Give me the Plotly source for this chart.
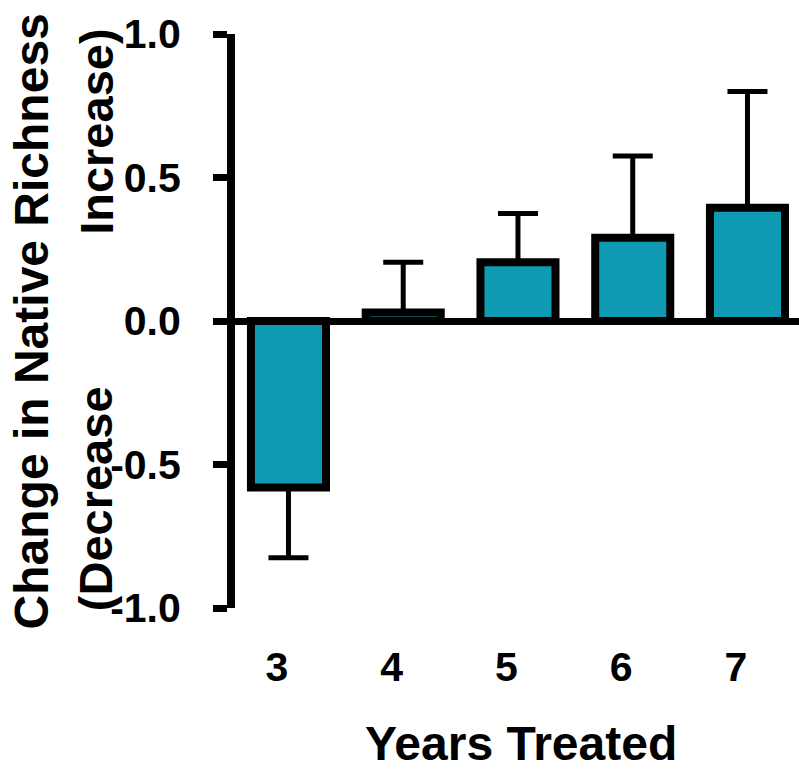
import plotly.graph_objects as go

# Mean change in native species richness by number of years treated
years = [3, 4, 5, 6, 7]
mean_change = [-0.58, 0.03, 0.205, 0.29, 0.395]
std_err = [0.245, 0.175, 0.17, 0.285, 0.405]

y_tick_vals = [-1.0, -0.5, 0.0, 0.5, 1.0]
y_tick_text = ["-1.0", "-0.5", "0.0", "0.5", "1.0"]

# error bars point away from zero only
err_up = [e if m >= 0 else 0 for m, e in zip(mean_change, std_err)]
err_down = [e if m < 0 else 0 for m, e in zip(mean_change, std_err)]

FONT = "Liberation Sans, Arial, sans-serif"
BAR_FILL = "#109AB1"
X_RANGE = [2.534, 7.449]
LABEL_SHIFT = 0.1  # category labels sit slightly left of the bar centres

fig = go.Figure()
fig.add_trace(go.Bar(
    x=years,
    y=mean_change,
    width=0.654,
    marker=dict(color=BAR_FILL, line=dict(color="black", width=8)),
    error_y=dict(
        type="data",
        symmetric=False,
        array=err_up,
        arrayminus=err_down,
        color="black",
        thickness=5,
        width=20,
    ),
    showlegend=False,
))
# invisible carrier trace so the label axis is rendered
fig.add_trace(go.Scatter(
    x=years,
    y=[0] * len(years),
    xaxis="x2",
    mode="markers",
    marker=dict(opacity=0),
    hoverinfo="skip",
    showlegend=False,
))

fig.update_layout(
    width=799,
    height=769,
    margin=dict(l=235, r=0, t=34, b=161),
    paper_bgcolor="white",
    plot_bgcolor="white",
    xaxis=dict(
        range=X_RANGE,
        showticklabels=False,
        showline=False,
        showgrid=False,
        zeroline=False,
        ticks="",
    ),
    xaxis2=dict(
        overlaying="x",
        side="bottom",
        anchor="y",
        range=[X_RANGE[0] + LABEL_SHIFT, X_RANGE[1] + LABEL_SHIFT],
        tickvals=years,
        ticktext=[str(y) for y in years],
        showline=False,
        showgrid=False,
        zeroline=False,
        ticks="",
        ticklabelstandoff=31,
        tickfont=dict(family=FONT, size=41, color="black", weight="bold"),
    ),
    yaxis=dict(
        range=[-1.0, 1.0],
        tickvals=y_tick_vals,
        ticktext=y_tick_text,
        showline=True,
        linecolor="black",
        linewidth=8,
        showgrid=False,
        zeroline=True,
        zerolinecolor="black",
        zerolinewidth=7,
        ticks="outside",
        ticklen=14,
        tickwidth=7,
        tickcolor="black",
        ticklabelstandoff=24,
        tickfont=dict(family=FONT, size=41, color="black", weight="bold"),
    ),
)

title_font = dict(family=FONT, size=48, color="black", weight="bold")
line2_font = dict(family=FONT, size=47, color="black", weight="bold")

fig.add_annotation(
    text="Change in Native Richness", textangle=-90,
    xref="paper", yref="paper", x=-0.361, y=0.5,
    xanchor="center", yanchor="middle", showarrow=False,
    font=title_font,
)
fig.add_annotation(
    text="Increase)", textangle=-90,
    xref="paper", yref="paper", x=-0.246, y=0.83,
    xanchor="center", yanchor="middle", showarrow=False,
    font=line2_font,
)
fig.add_annotation(
    text="(Decrease", textangle=-90,
    xref="paper", yref="paper", x=-0.246, y=0.19,
    xanchor="center", yanchor="middle", showarrow=False,
    font=line2_font,
)
fig.add_annotation(
    text="Years Treated",
    xref="paper", yref="paper", x=0.507, y=-0.2857,
    xanchor="center", yanchor="bottom", showarrow=False,
    font=dict(family=FONT, size=48, color="black", weight="bold"),
)

fig.write_html("out.html")
